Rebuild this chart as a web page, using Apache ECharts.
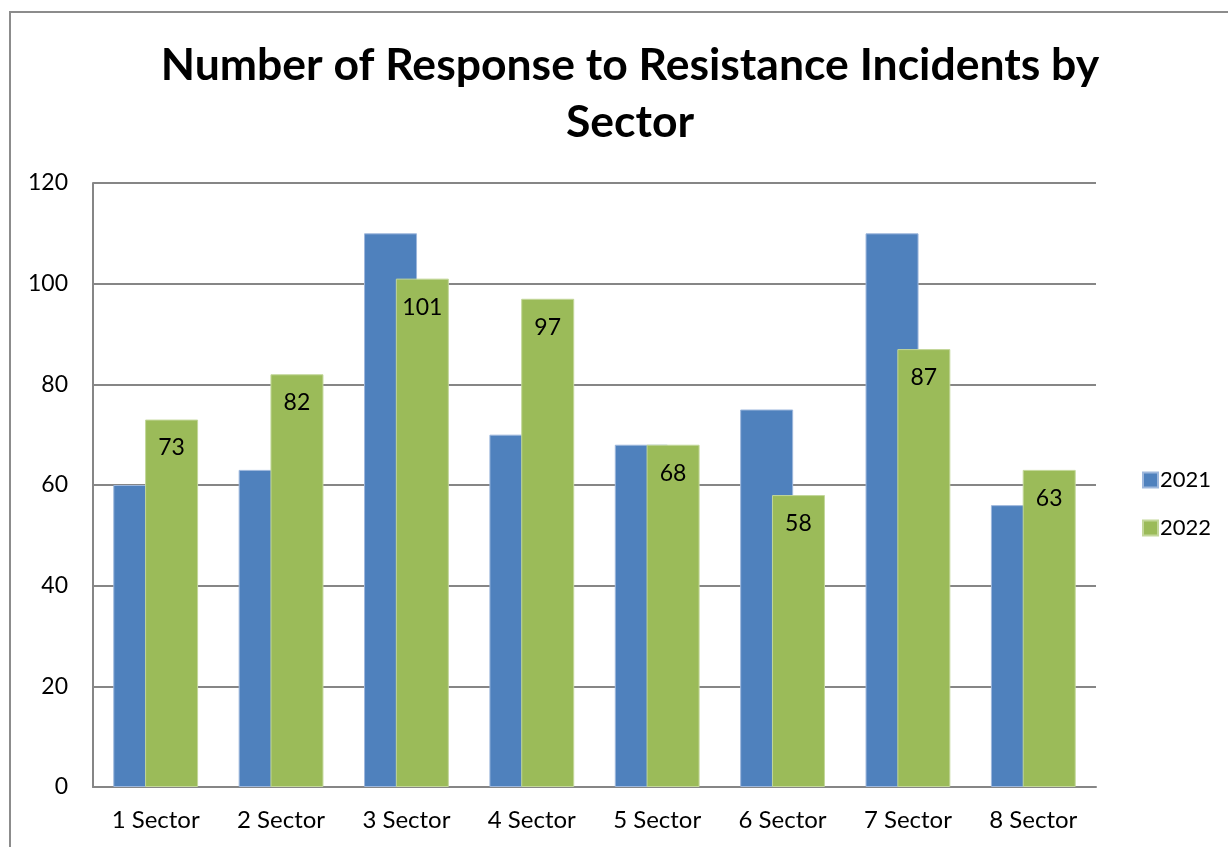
<!DOCTYPE html>
<html>
<head>
<meta charset="utf-8">
<style>
  html, body { margin: 0; padding: 0; background: #fff; }
  #chart { width: 1228px; height: 847px; }
</style>
<script src="https://cdn.jsdelivr.net/npm/echarts@6/dist/echarts.min.js"></script>
</head>
<body>
<div id="chart"></div>
<script>
// Response to resistance incidents per sector, two years side by side
const categories = ['1 Sector', '2 Sector', '3 Sector', '4 Sector', '5 Sector', '6 Sector', '7 Sector', '8 Sector'];
const values2021 = [60, 63, 110, 70, 68, 75, 110, 56];
const values2022 = [73, 82, 101, 97, 68, 58, 87, 63];
const yTicks = { min: 0, max: 120, interval: 20 };

const FONT = 'Lato, "Open Sans", sans-serif';
const chart = echarts.init(document.getElementById('chart'), null, { renderer: 'canvas' });

chart.setOption({
  backgroundColor: '#fff',
  animation: false,
  graphic: [{
    type: 'rect',
    shape: { x: 10, y: 12, width: 1300, height: 900 },
    style: { fill: 'none', stroke: '#8c8c8c', lineWidth: 2 },
    silent: true
  }],
  title: {
    text: 'Number of Response to Resistance Incidents by\nSector',
    left: 625,
    top: 32,
    textAlign: 'center',
    textStyle: { fontFamily: FONT, fontWeight: 'bold', fontSize: 44.5, lineHeight: 57, color: '#000' }
  },
  legend: {
    orient: 'vertical',
    left: 1137,
    top: 464,
    itemWidth: 15,
    itemHeight: 15,
    itemGap: 26,
    icon: 'rect',
    textStyle: { fontFamily: FONT, fontSize: 22, color: '#000', padding: [0, 0, 0, -3] },
    data: ['2021', '2022']
  },
  grid: { left: 93, right: 132, top: 183, bottom: 60, containLabel: false },
  xAxis: {
    type: 'category',
    data: categories,
    axisLine: { show: true, lineStyle: { color: '#868686', width: 2 } },
    axisTick: { show: false },
    axisLabel: { fontFamily: FONT, fontSize: 24, color: '#000', margin: 21 }
  },
  yAxis: {
    type: 'value',
    min: yTicks.min,
    max: yTicks.max,
    interval: yTicks.interval,
    axisLine: { show: true, lineStyle: { color: '#868686', width: 2 } },
    axisTick: { show: false },
    axisLabel: { fontFamily: FONT, fontSize: 23, color: '#000', margin: 25 },
    splitLine: { lineStyle: { color: '#868686', width: 2 } }
  },
  series: [
    {
      name: '2021',
      type: 'bar',
      data: values2021,
      barWidth: 53,
      barGap: '-40%',
      itemStyle: { color: '#4F81BD', borderColor: '#9db7dc', borderWidth: 1 }
    },
    {
      name: '2022',
      type: 'bar',
      data: values2022,
      barWidth: 53,
      barGap: '-40%',
      itemStyle: { color: '#9BBB59', borderColor: '#c3d79a', borderWidth: 1 },
      label: {
        show: true,
        position: 'insideTop',
        distance: 17,
        fontFamily: FONT,
        fontSize: 23,
        color: '#000'
      }
    }
  ]
});
</script>
</body>
</html>
